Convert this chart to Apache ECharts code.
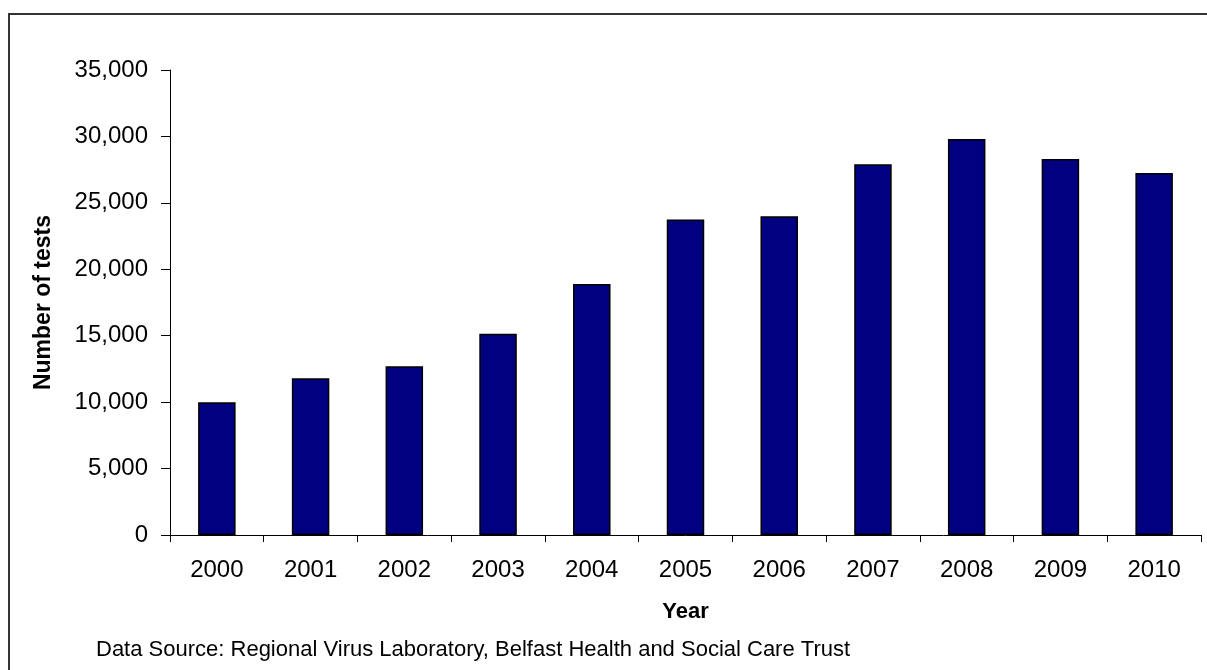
<!DOCTYPE html>
<html>
<head>
<meta charset="utf-8">
<script src="https://cdn.jsdelivr.net/npm/echarts@6/dist/echarts.min.js"></script>
<style>
html,body{margin:0;padding:0;background:#fff;}
#chart{width:1207px;height:670px;}
</style>
</head>
<body>
<div id="chart"></div>
<script>
const years = ['2000','2001','2002','2003','2004','2005','2006','2007','2008','2009','2010'];
const tests = [10000, 11800, 12700, 15150, 18900, 23750, 24000, 27900, 29800, 28300, 27250];
const yAxisTitle = 'Number of tests';
const xAxisTitle = 'Year';
const sourceNote = 'Data Source: Regional Virus Laboratory, Belfast Health and Social Care Trust';

const FONT = '"Liberation Sans", Arial, sans-serif';
const chart = echarts.init(document.getElementById('chart'), null, {renderer: 'canvas'});
chart.setOption({
  animation: false,
  backgroundColor: '#fff',
  grid: {left: 170, right: 6, top: 70, bottom: 135, containLabel: false},
  graphic: [
    {type: 'rect', shape: {x: 9, y: 14, width: 1400, height: 900},
     style: {fill: 'none', stroke: '#333', lineWidth: 2}, silent: true},
    {type: 'text', left: 96, top: 639,
     style: {text: sourceNote, font: '22px ' + FONT, fill: '#000'}}
  ],
  xAxis: {
    type: 'category',
    data: years,
    boundaryGap: true,
    name: xAxisTitle,
    nameLocation: 'middle',
    nameGap: 66,
    nameTextStyle: {fontFamily: FONT, fontSize: 22, fontWeight: 'bold', color: '#000'},
    axisLine: {lineStyle: {color: '#000', width: 1}},
    axisTick: {show: true, alignWithLabel: false, length: 7, lineStyle: {color: '#000'}},
    axisLabel: {fontFamily: FONT, fontSize: 24, color: '#000', margin: 23}
  },
  yAxis: {
    type: 'value',
    min: 0, max: 35000, interval: 5000,
    name: yAxisTitle,
    nameLocation: 'middle',
    nameGap: 115,
    nameTextStyle: {fontFamily: FONT, fontSize: 23, fontWeight: 'bold', color: '#000'},
    axisLine: {show: true, lineStyle: {color: '#000', width: 1}},
    axisTick: {show: true, length: 9, lineStyle: {color: '#000'}},
    splitLine: {show: false},
    axisLabel: {fontFamily: FONT, fontSize: 24, color: '#000', margin: 22,
      formatter: v => v.toLocaleString('en-US')}
  },
  series: [{
    type: 'bar',
    data: tests,
    barWidth: '40%',
    itemStyle: {color: '#000080', borderColor: '#000', borderWidth: 1.5}
  }]
});
</script>
</body>
</html>
